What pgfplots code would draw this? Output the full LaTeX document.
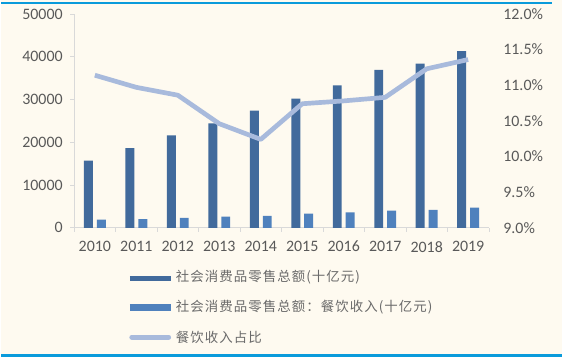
\documentclass[border=0pt]{standalone}
\usepackage{pgfplots}
\pgfplotsset{compat=1.18}
\usepackage{fontspec}
\setmainfont{Carlito}
\newfontfamily\cjk[LetterSpace=8]{Noto Sans CJK SC}
\definecolor{bgc}{HTML}{FEFAF0}
\definecolor{topblue}{HTML}{0A9BDB}
\definecolor{darkbar}{HTML}{416A9C}
\definecolor{lightbar}{HTML}{4F81BD}
\definecolor{linec}{HTML}{A8BADC}
\definecolor{txt}{HTML}{595959}
\definecolor{ltxt}{HTML}{6A6A6A}
\definecolor{axc}{HTML}{D9D9D9}
\begin{document}
\begin{tikzpicture}[x=1pt,y=1pt]
\fill[bgc] (0,0) rectangle (563,359);
\draw[topblue, line width=2pt] (0,356) -- (553,356);
\draw[topblue, line width=3pt] (0,1.5) -- (563,1.5);
\begin{axis}[
  at={(73pt,130pt)}, anchor=south west, scale only axis,
  width=417pt, height=215pt,
  xmin=-0.5, xmax=9.5, ymin=0, ymax=50000,
  axis x line*=bottom, axis y line*=left,
  axis line style={axc, line width=0.8pt},
  xtick={0,...,9},
  xticklabels={2010,2011,2012,2013,2014,2015,2016,2017,2018,2019},
  minor xtick={-0.5,0.5,...,9.5},
  major x tick style={draw=none},
  minor tick length=4pt,
  minor x tick style={axc, line width=0.8pt},
  tick align=outside,
  ytick={0,10000,20000,30000,40000,50000},
  yticklabels={0,10000,20000,30000,40000,50000},
  major tick length=4pt,
  y tick style={axc, line width=0.8pt},
  scaled y ticks=false,
  tick label style={font=\fontsize{16}{18}\selectfont, text=txt},
  xticklabel style={yshift=-6pt},
  yticklabel style={xshift=-4pt},
  /pgf/number format/assume math mode=true,
  ybar, bar width=9pt,
  clip=false,
]
\addplot[fill=darkbar, draw=none, bar shift=-6.5pt] coordinates {
(0,15700) (1,18600) (2,21600) (3,24400) (4,27400)
(5,30200) (6,33300) (7,36900) (8,38400) (9,41300)};
\addplot[fill=lightbar, draw=none, bar shift=6.5pt] coordinates {
(0,1900) (1,2000) (2,2300) (3,2600) (4,2800)
(5,3300) (6,3600) (7,4000) (8,4200) (9,4700)};
\end{axis}
\begin{axis}[
  at={(73pt,130pt)}, anchor=south west, scale only axis,
  width=417pt, height=215pt,
  xmin=-0.5, xmax=9.5, ymin=9, ymax=12,
  axis x line=none, axis y line*=right,
  axis line style={draw=none},
  ytick={9,9.5,10,10.5,11,11.5,12},
  yticklabels={9.0\%,9.5\%,10.0\%,10.5\%,11.0\%,11.5\%,12.0\%},
  major tick length=0pt,
  tick label style={font=\fontsize{16}{18}\selectfont, text=txt},
  yticklabel style={anchor=west, xshift=11pt},
  /pgf/number format/assume math mode=true,
  clip=false,
]
\addplot[linec, line width=4.7pt, line join=round] coordinates {
(0,11.14) (1,10.97) (2,10.86) (3,10.46) (4,10.24)
(5,10.74) (6,10.78) (7,10.83) (8,11.23) (9,11.36)};
\end{axis}
\draw[darkbar, line width=5.5pt] (129,79) -- (170,79);
\node[anchor=west, text=ltxt, font=\cjk\fontsize{13.5}{15}\selectfont, inner sep=0pt] at (175,80) {社会消费品零售总额(十亿元)};
\draw[lightbar, line width=6.5pt] (129,50) -- (170,50);
\node[anchor=west, text=ltxt, font=\cjk\fontsize{13.5}{15}\selectfont, inner sep=0pt] at (175,50) {社会消费品零售总额：餐饮收入(十亿元)};
\draw[linec, line width=5pt, line cap=round] (131,20) -- (168,20);
\node[anchor=west, text=ltxt, font=\cjk\fontsize{13.5}{15}\selectfont, inner sep=0pt] at (175,20) {餐饮收入占比};
\end{tikzpicture}
\end{document}
